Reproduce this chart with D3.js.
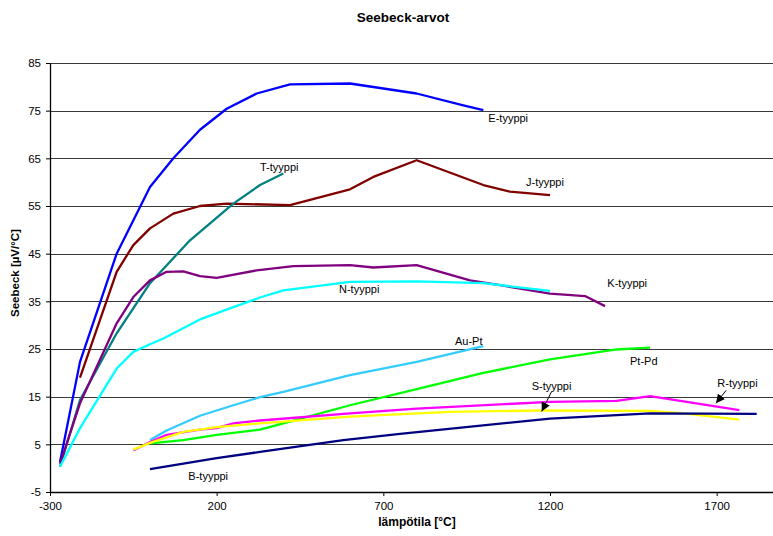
<!DOCTYPE html>
<html>
<head>
<meta charset="utf-8">
<script src="https://cdn.jsdelivr.net/npm/d3@7"></script>
<style>
  body { margin: 0; background: #fff; }
  svg { font-family: "Liberation Sans", Arial, sans-serif; }
</style>
</head>
<body>
<div id="chart"></div>
<script>
// [temperature °C, Seebeck µV/°C]
const eTyyppi = [[-270,1.3],[-210,22.3],[-100,45],[0,59],[70,65],[150,71],[230,75.4],[320,78.6],[420,80.5],[600,80.7],[800,78.6],[940,76.1],[1000,75.1]];
const jTyyppi = [[-210,19],[-100,41.2],[-50,46.8],[0,50.3],[70,53.4],[150,55],[230,55.5],[420,55.2],[600,58.5],[670,61.1],[800,64.6],[1000,59.4],[1080,58],[1200,57.3]];
const tTyyppi = [[-270,0.3],[-210,14.3],[-100,28.3],[0,38.8],[120,47.8],[250,55.5],[330,59.4],[400,61.8]];
const kTyyppi = [[-270,0.9],[-210,13.6],[-100,30.4],[-50,35.9],[0,39.4],[50,41.2],[100,41.3],[150,40.3],[200,39.9],[320,41.5],[430,42.4],[600,42.6],[670,42.1],[800,42.6],[960,39.4],[1050,38.4],[1200,36.6],[1305,36.1],[1365,34]];
const nTyyppi = [[-270,0.3],[-210,8.4],[-100,20.9],[-50,24.4],[0,26],[40,27.2],[150,31.2],[250,33.8],[330,35.8],[400,37.3],[600,39.1],[800,39.2],[1000,38.8],[1200,37.2]];
const auPt = [[0,5.9],[50,7.9],[150,11],[250,13.2],[330,14.9],[400,16],[600,19.5],[800,22.3],[1000,25.6]];
const ptPd = [[0,5.2],[100,5.9],[200,7],[330,8.1],[400,9.4],[600,13.2],[800,16.6],[1000,20],[1200,22.8],[1400,24.9],[1500,25.3]];
const rTyyppi = [[-50,3.7],[0,5.5],[50,7],[150,8.1],[200,8.4],[250,9.4],[330,10],[600,11.5],[800,12.5],[1200,13.9],[1400,14.1],[1500,15.1],[1768,12.2]];
const sTyyppi = [[-50,3.9],[0,5.3],[100,7.6],[200,8.6],[330,9.4],[600,10.8],[900,11.8],[1170,12.1],[1500,12],[1600,11.5],[1768,10.2]];
const bTyyppi = [[0,-0.2],[200,2.1],[330,3.4],[580,5.9],[750,7.2],[1200,10.4],[1500,11.5],[1820,11.4]];

const seriesNames = ["E-tyyppi","J-tyyppi","T-tyyppi","K-tyyppi","N-tyyppi","Au-Pt","Pt-Pd","R-tyyppi","S-tyyppi","B-tyyppi"];
const seriesData = [eTyyppi, jTyyppi, tTyyppi, kTyyppi, nTyyppi, auPt, ptPd, rTyyppi, sTyyppi, bTyyppi];
const seriesColors = ["#0000ff","#800000","#008080","#800080","#00ffff","#33ccff","#00ff00","#ff00ff","#ffff00","#000080"];

const xTicks = [-300, 200, 700, 1200, 1700];
const yTicks = [-5, 5, 15, 25, 35, 45, 55, 65, 75, 85];

// label anchors [temperature, value] and arrows [from, to] in data units
const labelPos = {
  "E-tyyppi": [1015, 73.4], "T-tyyppi": [330, 63.1], "J-tyyppi": [1128, 60.1],
  "K-tyyppi": [1372, 38.9], "N-tyyppi": [567, 37.6], "Au-Pt": [915, 26.6],
  "Pt-Pd": [1440, 22.4], "S-tyyppi": [1145, 17.2], "R-tyyppi": [1702, 17.8],
  "B-tyyppi": [115, -1.6]
};
const arrows = [
  [[1205, 16.1], [1175, 11.9]],
  [[1728, 16.3], [1698, 13.6]]
];

const W = 773, H = 536;
const margin = { left: 50, right: 0, top: 63, bottom: 44 };

const svg = d3.select("#chart").append("svg")
  .attr("width", W).attr("height", H);

const x = d3.scaleLinear().domain([-300, 1869]).range([margin.left, W - margin.right]);
const y = d3.scaleLinear().domain([-5, 85]).range([H - margin.bottom, margin.top]);

// gridlines
svg.append("g").selectAll("line")
  .data(yTicks.filter(d => d > -5))
  .enter().append("line")
  .attr("x1", x(-300)).attr("x2", W)
  .attr("y1", d => Math.round(y(d)) + 0.5).attr("y2", d => Math.round(y(d)) + 0.5)
  .attr("stroke", "#3a3a3a")
  .attr("stroke-width", 1.2);

// axes
const fmt = d => String(d);
const yAxis = svg.append("g")
  .attr("transform", `translate(${x(-300)},0)`)
  .call(d3.axisLeft(y).tickValues(yTicks).tickFormat(fmt).tickSize(4).tickSizeOuter(0).tickPadding(5));
const xAxis = svg.append("g")
  .attr("transform", `translate(0,${y(-5)})`)
  .call(d3.axisBottom(x).tickValues(xTicks).tickFormat(fmt).tickSize(4).tickSizeOuter(0).tickPadding(6));

[yAxis, xAxis].forEach(a => {
  a.select(".domain").attr("stroke", "#000").attr("stroke-width", 1.3);
  a.selectAll(".tick line").attr("stroke", "#000");
  a.selectAll(".tick text").attr("font-size", "11.5px").attr("fill", "#000")
    .style("font-family", "'Liberation Sans', Arial, sans-serif");
});

// series
const line = d3.line().x(d => x(d[0])).y(d => y(d[1]));
svg.append("g").selectAll("path")
  .data(seriesData)
  .enter().append("path")
  .attr("fill", "none")
  .attr("stroke", (d, i) => seriesColors[i])
  .attr("stroke-width", 2.3)
  .attr("stroke-linejoin", "round")
  .attr("d", line);

// labels
svg.append("g").selectAll("text")
  .data(seriesNames)
  .enter().append("text")
  .attr("x", d => x(labelPos[d][0]))
  .attr("y", d => y(labelPos[d][1]))
  .attr("dy", "0.35em")
  .attr("font-size", "11px")
  .attr("fill", "#000")
  .text(d => d);

// arrows
svg.append("defs").append("marker")
  .attr("id", "arr")
  .attr("viewBox", "0 0 10 10")
  .attr("refX", 10).attr("refY", 5)
  .attr("markerWidth", 9).attr("markerHeight", 9)
  .attr("markerUnits", "userSpaceOnUse")
  .attr("orient", "auto")
  .append("path").attr("d", "M0,0 L10,5 L0,10 z").attr("fill", "#000");

svg.append("g").selectAll("line")
  .data(arrows)
  .enter().append("line")
  .attr("x1", d => x(d[0][0])).attr("y1", d => y(d[0][1]))
  .attr("x2", d => x(d[1][0])).attr("y2", d => y(d[1][1]))
  .attr("stroke", "#000").attr("stroke-width", 1)
  .attr("marker-end", "url(#arr)");

// titles
svg.append("text")
  .attr("x", 403).attr("y", 17).attr("dy", "0.35em")
  .attr("text-anchor", "middle")
  .attr("font-size", "13.5px").attr("font-weight", "bold")
  .text("Seebeck-arvot");

svg.append("text")
  .attr("x", 417).attr("y", 522).attr("dy", "0.35em")
  .attr("text-anchor", "middle")
  .attr("font-size", "12px").attr("font-weight", "bold")
  .text("lämpötila [°C]");

svg.append("text")
  .attr("transform", "translate(15,273) rotate(-90)")
  .attr("dy", "0.35em")
  .attr("text-anchor", "middle")
  .attr("font-size", "11.5px").attr("font-weight", "bold")
  .text("Seebeck [µV/°C]");
</script>
</body>
</html>
